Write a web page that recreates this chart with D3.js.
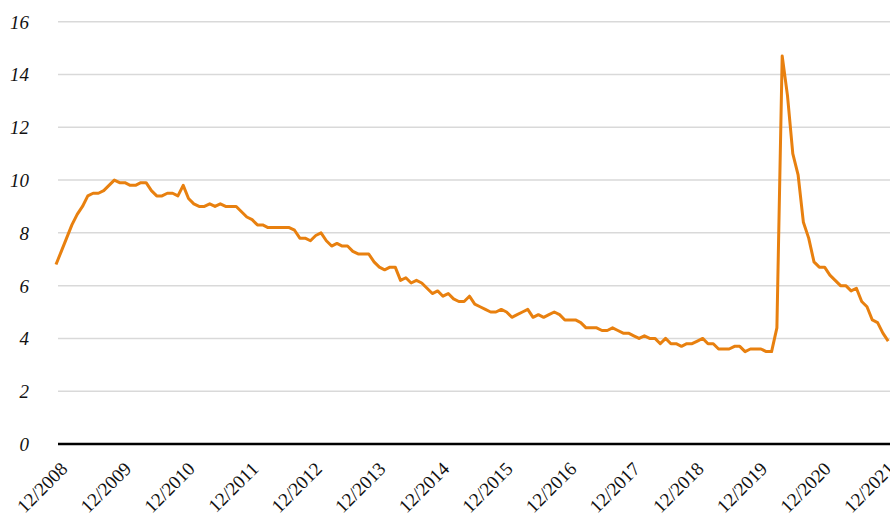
<!DOCTYPE html>
<html>
<head>
<meta charset="utf-8">
<script src="https://cdn.jsdelivr.net/npm/d3@7"></script>
<style>
  html, body { margin: 0; padding: 0; background: #fff; }
  svg { display: block; }
</style>
</head>
<body>
<svg id="chart" width="890" height="516"></svg>
<script>
// Monthly values, Nov 2008 .. Dec 2021
const startYear = 2008, startMonth = 11;
const values2008 = [6.8, 7.3];
const values2009 = [7.8, 8.3, 8.7, 9.0, 9.4, 9.5, 9.5, 9.6, 9.8, 10.0, 9.9, 9.9];
const values2010 = [9.8, 9.8, 9.9, 9.9, 9.6, 9.4, 9.4, 9.5, 9.5, 9.4, 9.8, 9.3];
const values2011 = [9.1, 9.0, 9.0, 9.1, 9.0, 9.1, 9.0, 9.0, 9.0, 8.8, 8.6, 8.5];
const values2012 = [8.3, 8.3, 8.2, 8.2, 8.2, 8.2, 8.2, 8.1, 7.8, 7.8, 7.7, 7.9];
const values2013 = [8.0, 7.7, 7.5, 7.6, 7.5, 7.5, 7.3, 7.2, 7.2, 7.2, 6.9, 6.7];
const values2014 = [6.6, 6.7, 6.7, 6.2, 6.3, 6.1, 6.2, 6.1, 5.9, 5.7, 5.8, 5.6];
const values2015 = [5.7, 5.5, 5.4, 5.4, 5.6, 5.3, 5.2, 5.1, 5.0, 5.0, 5.1, 5.0];
const values2016 = [4.8, 4.9, 5.0, 5.1, 4.8, 4.9, 4.8, 4.9, 5.0, 4.9, 4.7, 4.7];
const values2017 = [4.7, 4.6, 4.4, 4.4, 4.4, 4.3, 4.3, 4.4, 4.3, 4.2, 4.2, 4.1];
const values2018 = [4.0, 4.1, 4.0, 4.0, 3.8, 4.0, 3.8, 3.8, 3.7, 3.8, 3.8, 3.9];
const values2019 = [4.0, 3.8, 3.8, 3.6, 3.6, 3.6, 3.7, 3.7, 3.5, 3.6, 3.6, 3.6];
const values2020 = [3.5, 3.5, 4.4, 14.7, 13.2, 11.0, 10.2, 8.4, 7.8, 6.9, 6.7, 6.7];
const values2021 = [6.4, 6.2, 6.0, 6.0, 5.8, 5.9, 5.4, 5.2, 4.7, 4.6, 4.2, 3.9];

const yTicks = [0, 2, 4, 6, 8, 10, 12, 14, 16];
const xTickLabels = ["12/2008","12/2009","12/2010","12/2011","12/2012","12/2013","12/2014",
                     "12/2015","12/2016","12/2017","12/2018","12/2019","12/2020","12/2021"];

const series = [].concat(values2008, values2009, values2010, values2011, values2012, values2013,
  values2014, values2015, values2016, values2017, values2018, values2019, values2020, values2021);

const months = series.map((v, i) => {
  const m0 = startMonth - 1 + i;
  const y = startYear + Math.floor(m0 / 12);
  const m = (m0 % 12) + 1;
  return m + "/" + y;
});
const data = series.map((v, i) => ({ key: months[i], value: v }));

const svg = d3.select("#chart");
const plotLeft = 58, plotRight = 890;

const x = d3.scalePoint().domain(months).range([56, 888.2]);
const y = d3.scaleLinear().domain([0, 16]).range([444, 21.7]);

// gridlines
svg.append("g")
  .selectAll("line")
  .data(yTicks.filter(d => d > 0))
  .join("line")
  .attr("x1", plotLeft).attr("x2", plotRight)
  .attr("y1", d => y(d)).attr("y2", d => y(d))
  .attr("stroke", "#d9d9d9")
  .attr("stroke-width", 1.5);

// y labels
const yAxis = d3.axisLeft(y).tickValues(yTicks).tickSize(0).tickPadding(0).tickFormat(d3.format("d"));
const yg = svg.append("g").attr("transform", "translate(29,0)").call(yAxis);
yg.select(".domain").remove();
yg.selectAll("text")
  .attr("font-family", "'Liberation Serif', 'Times New Roman', serif")
  .attr("font-style", "italic")
  .attr("font-size", "19px")
  .attr("fill", "#111")
  .attr("dy", "0.34em");

// line
svg.append("path")
  .datum(data)
  .attr("fill", "none")
  .attr("stroke", "#e8800f")
  .attr("stroke-width", 3)
  .attr("stroke-linejoin", "round")
  .attr("d", d3.line().x(d => x(d.key)).y(d => y(d.value)));

// x axis baseline
svg.append("line")
  .attr("x1", plotLeft).attr("x2", plotRight)
  .attr("y1", y(0)).attr("y2", y(0))
  .attr("stroke", "#000")
  .attr("stroke-width", 2.5);

// x labels
const xAxis = d3.axisBottom(x).tickValues(xTickLabels).tickSize(0).tickPadding(0);
const xg = svg.append("g").attr("transform", `translate(0,${y(0)})`).call(xAxis);
xg.select(".domain").remove();
xg.selectAll("text")
  .attr("font-family", "'Liberation Serif', 'Times New Roman', serif")
  .attr("font-size", "19px")
  .attr("fill", "#111")
  .attr("text-anchor", "end")
  .attr("dy", null)
  .attr("y", 0)
  .attr("transform", "translate(7,26) rotate(-45)");
</script>
</body>
</html>
